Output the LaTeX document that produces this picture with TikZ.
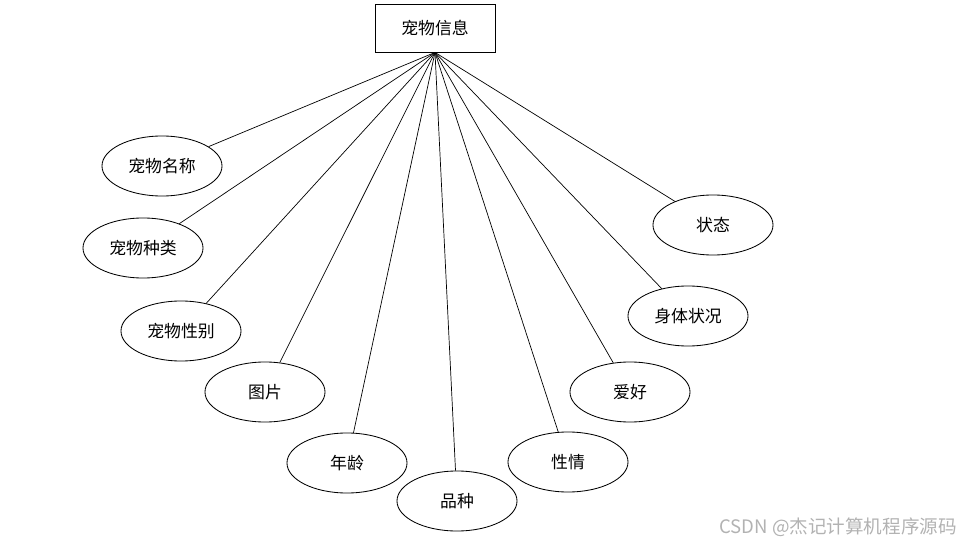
\documentclass[tikz,border=0pt]{standalone}
\usepackage{fontspec}
\setmainfont{Noto Sans CJK SC}
\usepackage{tikz}
\usetikzlibrary{shapes.geometric}

\tikzset{
  entity/.style={draw, line width=0.6pt, minimum width=3cm, minimum height=1.2cm},
  attr/.style={draw, ellipse, line width=0.6pt, minimum width=3cm, minimum height=1.5cm},
  link/.style={line width=0.5pt}
}

\begin{document}
\begin{tikzpicture}[x=0.025cm, y=-0.025cm, font=\fontsize{12}{14}\selectfont]
                \useasboundingbox (0,0) rectangle (962,545);
                \node[entity] (info) at (435,28) {宠物信息};
                % attributes
                \node[attr] (name) at (162,166) {宠物名称};
                \node[attr] (kind) at (143,248) {宠物种类};
                \node[attr] (sex) at (181,331) {宠物性别};
                \node[attr] (pic) at (265,392) {图片};
                \node[attr] (age) at (347,463) {年龄};
                \node[attr] (breed) at (457,501) {品种};
                \node[attr] (temper) at (568,462) {性情};
                \node[attr] (hobby) at (630,392) {爱好};
                \node[attr] (health) at (688,316) {身体状况};
                \node[attr] (state) at (713,225) {状态};
                \foreach \n in {name,kind,sex,pic,age,breed,temper,hobby,health,state}
                    \draw[link] (info.south) -- (\n);
                \node[text=black!30, font=\fontsize{13.2}{15}\selectfont] (mark) at (838,527) {CSDN @杰记计算机程序源码};
            \end{tikzpicture}
\end{document}
